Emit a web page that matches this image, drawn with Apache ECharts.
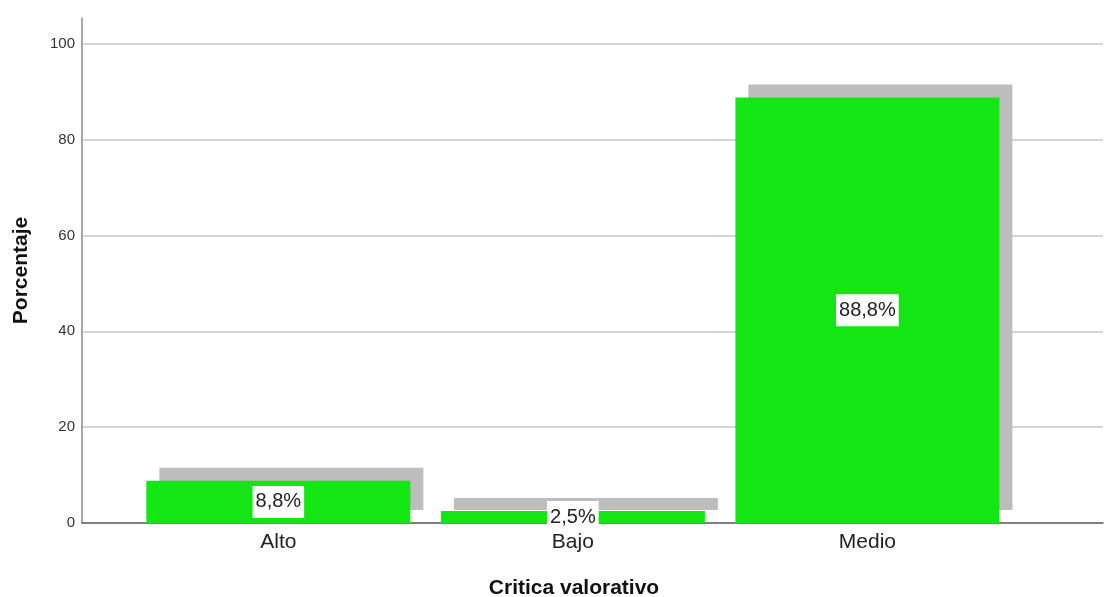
<!DOCTYPE html>
<html>
<head>
<meta charset="utf-8">
<script src="https://cdn.jsdelivr.net/npm/echarts@6/dist/echarts.min.js"></script>
<style>
html,body{margin:0;padding:0;background:#fff;}
#chart{width:1104px;height:597px;}
</style>
</head>
<body>
<div id="chart"></div>
<script>
const categories = ['Alto', 'Bajo', 'Medio'];
const percentages = [8.8, 2.5, 88.8];
const labelTexts = ['8,8%', '2,5%', '88,8%'];
const xTitle = 'Critica valorativo';
const yTitle = 'Porcentaje';

const FONT = '"Liberation Sans", Arial, sans-serif';
const chart = echarts.init(document.getElementById('chart'), null, {renderer: 'canvas'});

const option = {
  animation: false,
  backgroundColor: '#ffffff',
  grid: {left: 82, right: 1, top: 18, bottom: 74, containLabel: false, outerBoundsMode: 'none'},
  xAxis: {
    type: 'value',
    min: -2 / 3,
    max: 2.8,
    interval: 1 / 3,
    name: xTitle,
    nameLocation: 'middle',
    nameGap: 55,
    nameTextStyle: {fontFamily: FONT, fontSize: 21, fontWeight: 'bold', color: '#111', verticalAlign: 'top', lineHeight: 20, padding: [0, 37, 0, 0]},
    axisLine: {show: true, onZero: false, lineStyle: {color: '#555', width: 1.5}},
    axisTick: {show: false},
    splitLine: {show: false},
    axisLabel: {
      fontFamily: FONT, fontSize: 21, color: '#222', margin: 9,
      showMinLabel: false, showMaxLabel: false,
      formatter: function (v) {
        const r = Math.round(v);
        if (Math.abs(v - r) < 0.01 && r >= 0 && r < categories.length) return categories[r];
        return '';
      }
    }
  },
  yAxis: {
    type: 'value',
    min: 0,
    max: 105.4,
    interval: 20,
    name: yTitle,
    nameLocation: 'middle',
    nameGap: 50,
    nameRotate: 90,
    nameTextStyle: {fontFamily: FONT, fontSize: 21, fontWeight: 'bold', color: '#111'},
    axisLine: {show: true, onZero: false, lineStyle: {color: '#8a8a8a', width: 1.5}},
    axisTick: {show: false},
    axisLabel: {fontFamily: FONT, fontSize: 15, color: '#333', margin: 7, showMaxLabel: false},
    splitLine: {show: true, showMaxLine: false, showMinLine: false, lineStyle: {color: '#c6c6c6', width: 1.5}}
  },
  series: [{
    type: 'bar',
    barWidth: 264,
    data: percentages.map((v, i) => [i, v]),
    itemStyle: {
      color: '#14e614',
      shadowColor: '#bdbdbd',
      shadowBlur: 0,
      shadowOffsetX: 13,
      shadowOffsetY: -13
    },
    label: {
      show: true,
      position: 'inside',
      formatter: function (p) { return labelTexts[p.dataIndex]; },
      fontFamily: FONT,
      fontSize: 20,
      lineHeight: 24,
      color: '#222',
      backgroundColor: '#ffffff',
      padding: [4, 3]
    }
  }]
};
chart.setOption(option);
</script>
</body>
</html>
